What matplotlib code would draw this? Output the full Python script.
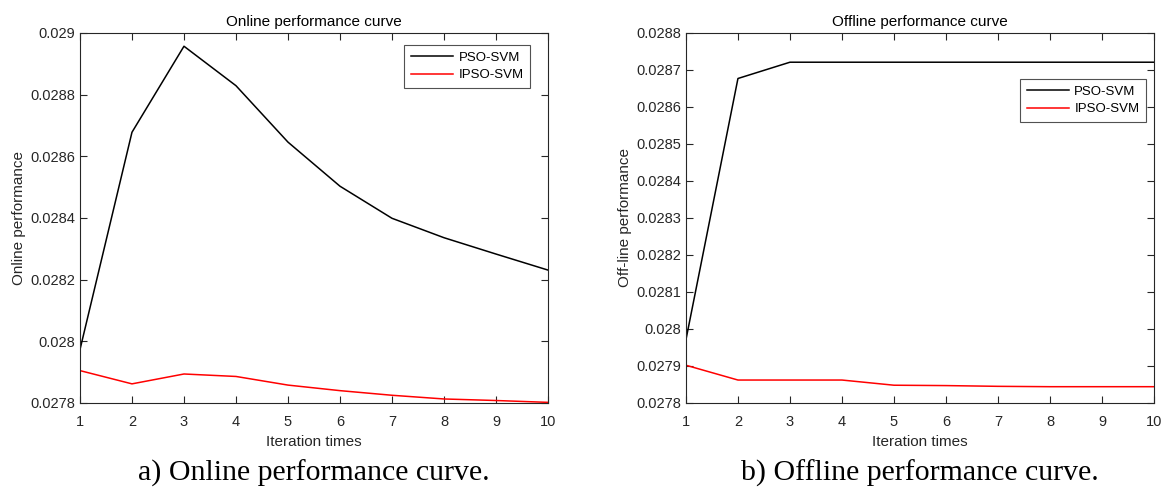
import numpy as np
import matplotlib
matplotlib.use("Agg")
import matplotlib.pyplot as plt
from matplotlib.ticker import FormatStrFormatter

iterations = [1, 2, 3, 4, 5, 6, 7, 8, 9, 10]

online_pso = [0.027973, 0.028678, 0.028957, 0.028829, 0.028646,
              0.028503, 0.028399, 0.028336, 0.028283, 0.028231]
online_ipso = [0.027905, 0.027862, 0.027894, 0.027886, 0.027858,
               0.027840, 0.027825, 0.027813, 0.027808, 0.027802]

offline_pso = [0.027971, 0.028677, 0.028721, 0.028721, 0.028721,
               0.028721, 0.028721, 0.028721, 0.028721, 0.028721]
offline_ipso = [0.027902, 0.027862, 0.027862, 0.027862, 0.027848,
                0.027847, 0.027845, 0.027844, 0.027844, 0.027844]

series_names = ["PSO-SVM", "IPSO-SVM"]
series_colors = ["black", "red"]

online_yticks = [0.0278, 0.0280, 0.0282, 0.0284, 0.0286, 0.0288, 0.0290]
offline_yticks = [0.0278, 0.0279, 0.0280, 0.0281, 0.0282, 0.0283,
                  0.0284, 0.0285, 0.0286, 0.0287, 0.0288]

plt.rcParams["font.family"] = ["Liberation Sans", "DejaVu Sans"]

fig = plt.figure(figsize=(11.64, 4.93), dpi=100)
fig.patch.set_facecolor("white")

axis_color = "#262626"

panels = [
    dict(rect=[0.0687, 0.1826, 0.4021, 0.7505], pso=online_pso, ipso=online_ipso,
         yticks=online_yticks, title="Online performance curve",
         ylabel="Online performance", legend_anchor=(0.962, 0.968),
         caption="a) Online performance curve."),
    dict(rect=[0.5893, 0.1826, 0.4021, 0.7505], pso=offline_pso, ipso=offline_ipso,
         yticks=offline_yticks, title="Offline performance curve",
         ylabel="Off-line performance", legend_anchor=(0.983, 0.876),
         caption="b) Offline performance curve."),
]

for p in panels:
    ax = fig.add_axes(p["rect"])
    for vals, name, col in zip([p["pso"], p["ipso"]], series_names, series_colors):
        ax.plot(iterations, vals, color=col, lw=1.1, label=name)
    ax.set_xlim(1, 10)
    ax.set_ylim(p["yticks"][0], p["yticks"][-1])
    ax.set_xticks(iterations)
    ax.set_yticks(p["yticks"])
    ax.yaxis.set_major_formatter(FormatStrFormatter("%g"))
    ax.tick_params(direction="in", top=True, right=True, length=5,
                   width=0.8, colors=axis_color, labelsize=10.5, labelcolor=axis_color)
    ax.tick_params(axis="x", pad=9)
    for s in ax.spines.values():
        s.set_color(axis_color)
        s.set_linewidth(0.8)
    ax.set_title(p["title"], fontsize=11, color="black", pad=5)
    ax.set_xlabel("Iteration times", fontsize=11, color=axis_color, labelpad=4)
    ax.set_ylabel(p["ylabel"], fontsize=11, color=axis_color, labelpad=3)
    leg = ax.legend(loc="upper right", bbox_to_anchor=p["legend_anchor"],
                    fontsize=9.5, frameon=True, fancybox=False, handlelength=3.2,
                    borderpad=0.5, labelspacing=0.4, handletextpad=0.4,
                    borderaxespad=0.0)
    leg.get_frame().set_edgecolor(axis_color)
    leg.get_frame().set_linewidth(0.8)
    x_mid = p["rect"][0] + p["rect"][2] / 2
    fig.text(x_mid, 0.04, p["caption"], ha="center", va="center",
             fontsize=21.5, family="Liberation Serif", color="black")

fig.savefig("out.png", dpi=100)
